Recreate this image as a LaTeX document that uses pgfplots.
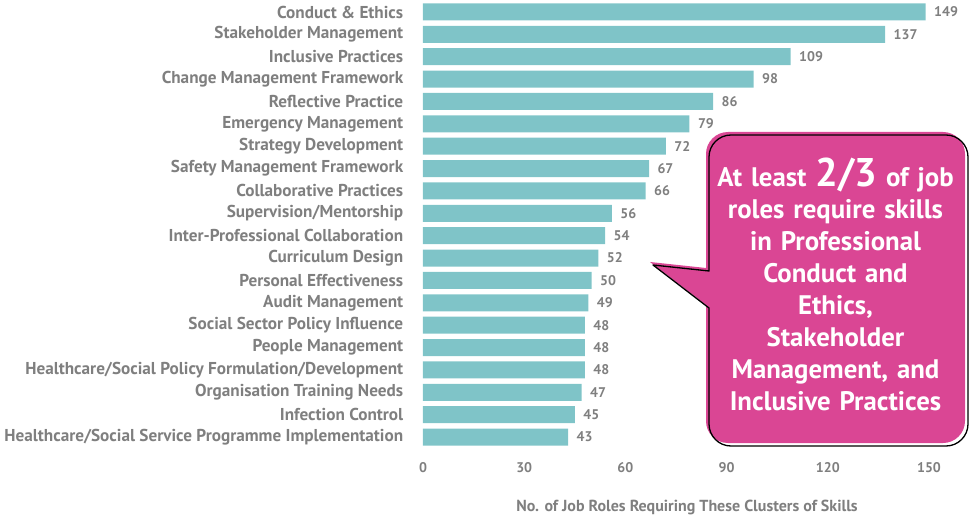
\documentclass[border=0pt]{standalone}
\usepackage{pgfplots}
\pgfplotsset{compat=1.18}
\usepackage{fontspec}
\setmainfont{PT Sans}
\definecolor{bartc}{HTML}{7FC4C8}
\definecolor{txtg}{HTML}{7F7F7F}
\definecolor{callm}{HTML}{DA4694}
\begin{document}
\begin{tikzpicture}[x=1pt,y=1pt]
\useasboundingbox (0,0) rectangle (970,515);
\begin{axis}[
  at={(423pt,66.8pt)}, anchor=south west,
  scale only axis, width=506pt, height=447.4pt,
  xmin=0, xmax=150, ymin=-0.5, ymax=19.5, y dir=reverse,
  xbar, bar width=17pt,
  axis line style={draw=none}, tick style={draw=none},
  xtick={0,30,60,90,120,150},
  ytick={0,...,19},
  yticklabels={Conduct \& Ethics,Stakeholder Management,Inclusive Practices,Change Management Framework,Reflective Practice,Emergency Management,Strategy Development,Safety Management Framework,Collaborative Practices,Supervision/Mentorship,Inter-Professional Collaboration,Curriculum Design,Personal Effectiveness,Audit Management,Social Sector Policy Influence,People Management,Healthcare/Social Policy Formulation/Development,Organisation Training Needs,Infection Control,Healthcare/Social Service Programme Implementation},
  yticklabel style={font=\fontsize{17.2}{18}\selectfont\bfseries, text=txtg, xshift=-12pt},
  xticklabel style={font=\fontsize{14}{16}\selectfont\bfseries, text=txtg, yshift=-11pt},
  /pgf/number format/assume math mode=true,
  xlabel={No. of Job Roles Requiring These Clusters of Skills},
  xlabel style={font=\fontsize{16}{18}\selectfont\bfseries, text=txtg, yshift=-20pt, xshift=11pt},
  nodes near coords,
  nodes near coords style={font=\fontsize{14}{16}\selectfont\bfseries, text=txtg, xshift=5pt},
  clip=false,
]
\addplot[fill=bartc, draw=none] coordinates {
(149,0) (137,1) (109,2) (98,3) (86,4) (79,5) (72,6) (67,7) (66,8) (56,9)
(54,10) (52,11) (50,12) (49,13) (48,14) (48,15) (48,16) (47,17) (45,18) (43,19)};
\end{axis}
% callout
\def\callpath{(706,210) -- (706,94) arc[start angle=180,end angle=270,radius=22] -- (943,72) arc[start angle=270,end angle=360,radius=22] -- (965,361) arc[start angle=0,end angle=90,radius=22] -- (728,383) arc[start angle=90,end angle=180,radius=22] -- (706,247) -- (650,253) -- cycle}
\fill[callm] \callpath;
\begin{scope}[shift={(3,-3)}]
\draw[black, line width=1.3pt, line join=round] \callpath;
\end{scope}
\node[text=white, align=center, font=\fontsize{26.8}{32}\selectfont\bfseries, text width=256pt] at (835.5,231)
{At least {\fontsize{40}{32}\selectfont 2/3} of job\\ roles require skills\\ in Professional\\ Conduct and\\ Ethics,\\ Stakeholder\\ Management, and\\ Inclusive Practices};
\end{tikzpicture}
\end{document}
